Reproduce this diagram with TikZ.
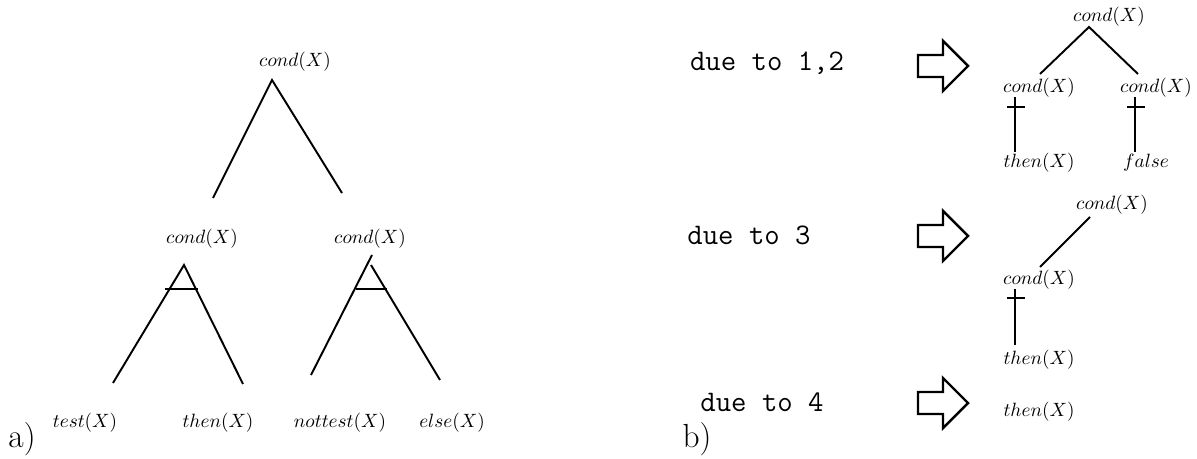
\documentclass[tikz,border=0pt]{standalone}
\usepackage{amsmath, amssymb}
\usepackage{xcolor}
\usepackage{tikz}
\usetikzlibrary{positioning}

\tikzset{
    term/.style={inner sep=1pt, font=\fontsize{11}{13}\selectfont},
    why/.style={inner sep=1pt, font=\fontsize{17}{20}\selectfont\ttfamily},
    tag/.style={inner sep=1pt, font=\fontsize{19}{22}\selectfont},
    branch/.style={line width=1.1pt},
    cut/.style={line width=1.6pt},
    pics/fatarrow/.style={code={
        \draw[line width=1.4pt] (0,-11) -- (25,-11) -- (25,-25) -- (50,0)
            -- (25,25) -- (25,11) -- (0,11) -- cycle;}}
}

\begin{document}
\begin{tikzpicture}[x=0.02cm, y=-0.02cm]
\useasboundingbox (0,0) rectangle (1197,459);

% a) the tree
\node[term] (r)   at (295,62)  {$cond(X)$};
\node[term] (cl)  at (202,239) {$cond(X)$};
\node[term] (cr)  at (370,239) {$cond(X)$};
\node[term] (l1)  at (85,423)  {$test(X)$};
\node[term] (l2)  at (218,423) {$then(X)$};
\node[term] (l3)  at (340,423) {$nottest(X)$};
\node[term] (l4)  at (452,423) {$else(X)$};
\node[tag]  (a)   at (22,439)  {a)};

\coordinate (r0) at (272,80);
\coordinate (r1) at (213,198);
\coordinate (r2) at (342,193);
\coordinate (p0) at (184,265);
\coordinate (p1) at (113,383);
\coordinate (p2) at (243,384);
\coordinate (q0) at (372,255);
\coordinate (q1) at (311,375);
\coordinate (q2) at (371,265);
\coordinate (q3) at (440,380);

\draw[branch] (r1) -- (r0) -- (r2);
\draw[branch] (p1) -- (p0) -- (p2);
\draw[branch] (q0) -- (q1);
\draw[branch] (q2) -- (q3);
\draw[cut] (165,289) -- (198,289);
\draw[cut] (356,289) -- (387,289);

% b) the reasons
\node[why] (d1) at (767,63)  {due to 1,2};
\node[why] (d2) at (749,235) {due to 3};
\node[why] (d3) at (762,402) {due to 4};
\node[tag] (b)  at (697,439) {b)};

\pic at (918,66)  {fatarrow};
\pic at (918,236) {fatarrow};
\pic at (918,403) {fatarrow};

% first result
\node[term] (s0) at (1109,17)  {$cond(X)$};
\node[term] (s1) at (1039,88)  {$cond(X)$};
\node[term] (s2) at (1156,88)  {$cond(X)$};
\node[term] (s3) at (1039,163) {$then(X)$};
\node[term] (s4) at (1146,163) {$false$};
\coordinate (s5) at (1089,27);
\coordinate (s6) at (1040,74);
\coordinate (s7) at (1138,74);
\draw[branch] (s6) -- (s5) -- (s7);
\draw[branch] (1015,97) -- (1015,152);
\draw[branch] (1135,97) -- (1135,152);
\draw[cut] (1007,107) -- (1025,107);
\draw[cut] (1127,107) -- (1145,107);

% second result
\node[term] (u0) at (1112,205) {$cond(X)$};
\node[term] (u1) at (1039,280) {$cond(X)$};
\node[term] (u2) at (1039,360) {$then(X)$};
\coordinate (u3) at (1090,217);
\coordinate (u4) at (1040,267);
\draw[branch] (u3) -- (u4);
\draw[branch] (1015,289) -- (1015,345);
\draw[cut] (1007,298) -- (1025,298);

% third result
\node[term] (w0) at (1039,412) {$then(X)$};
\end{tikzpicture}
\end{document}
